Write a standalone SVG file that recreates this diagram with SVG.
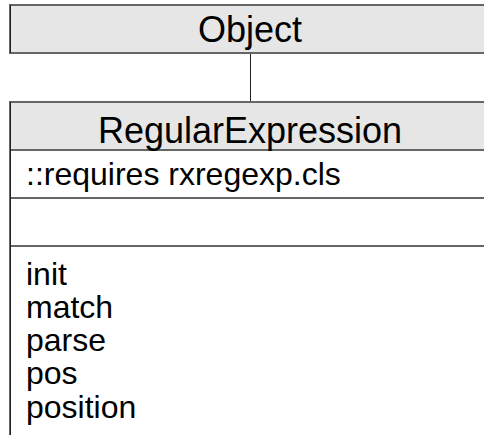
<svg xmlns="http://www.w3.org/2000/svg" width="484" height="435" viewBox="0 0 484 435">
<style>
.box{fill:#ffffff;stroke:#666666;stroke-width:2}
.head{fill:#e6e6e6;stroke:#666666;stroke-width:2}
.sep{stroke:#666666;stroke-width:2}
.edge{stroke:#222222;stroke-width:1}
.title{font-family:"Liberation Sans",Arial,sans-serif;font-size:36px;fill:#000;text-anchor:middle}
.item{font-family:"Liberation Sans",Arial,sans-serif;font-size:32px;fill:#000}
</style>
<g id="connectors">
<line class="edge" x1="250.5" y1="53" x2="250.5" y2="102"/>
</g>
<g id="Object">
<rect class="head" x="10" y="5" width="482" height="48"/>
<line class="edge" x1="10.5" y1="5" x2="10.5" y2="53"/>
<text class="title" x="250" y="42">Object</text>
</g>
<g id="RegularExpression">
<rect class="box" x="10" y="102" width="482" height="345"/>
<rect class="head" x="10" y="102" width="482" height="48"/>
<line class="sep" x1="10" y1="198" x2="492" y2="198"/>
<line class="sep" x1="10" y1="246" x2="492" y2="246"/>
<line class="edge" x1="10.5" y1="102" x2="10.5" y2="440"/>
<text class="title" x="250" y="143">RegularExpression</text>
<text class="item" x="26" y="185">::requires rxregexp.cls</text>
<text class="item" x="26" y="285">init</text>
<text class="item" x="26" y="318">match</text>
<text class="item" x="26" y="351">parse</text>
<text class="item" x="26" y="384">pos</text>
<text class="item" x="26" y="418">position</text>
</g>
</svg>
